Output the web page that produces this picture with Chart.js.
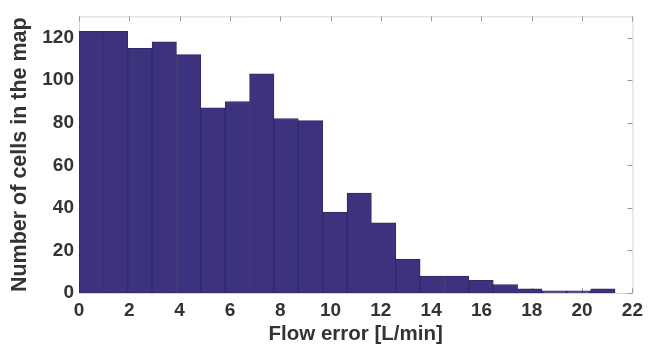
<!DOCTYPE html>
<html lang="en">
<head>
    <meta charset="UTF-8">
    <title>Flow error histogram</title>
    <script src="https://cdn.jsdelivr.net/npm/chart.js"></script>
    <style>
        body {
            margin: 0;
            background-color: #ffffff;
        }
        #wrap {
            width: 649px;
            height: 345px;
        }
    </style>
</head>
<body>
    <div id="wrap"><canvas id="histChart" width="649" height="345"></canvas></div>
    <script>
        // histogram: 22 equal bins from 0 to 21.31 L/min
        const binStart = 0;
        const binEnd = 21.31;
        const counts = [123, 123, 115, 118, 112, 87, 90, 103, 82, 81, 38, 47, 33, 16, 8, 8, 6, 4, 2, 1, 1, 2];
        const xTicks = [0, 2, 4, 6, 8, 10, 12, 14, 16, 18, 20, 22];
        const yTicks = [0, 20, 40, 60, 80, 100, 120];

        const binWidth = (binEnd - binStart) / counts.length;
        const points = counts.map((c, i) => ({ x: binStart + (i + 0.5) * binWidth, y: c }));

        const labelColor = '#333333';
        const frameColor = '#d6d6d6';
        const tickMarkColor = '#9a9a9a';
        const fontFamily = 'Liberation Sans, Arial, sans-serif';

        // box frame on top/right and inward tick marks, drawn under the bars
        const framePlugin = {
            id: 'frame',
            beforeDatasetsDraw(chart) {
                const { ctx, chartArea: a, scales } = chart;
                ctx.save();
                ctx.lineWidth = 1;
                ctx.strokeStyle = frameColor;
                ctx.beginPath();
                ctx.moveTo(a.left, a.top + 0.5);
                ctx.lineTo(a.right + 0.5, a.top + 0.5);
                ctx.lineTo(a.right + 0.5, a.bottom);
                ctx.stroke();

                ctx.strokeStyle = tickMarkColor;
                ctx.beginPath();
                xTicks.forEach(v => {
                    const px = Math.round(scales.x.getPixelForValue(v)) + 0.5;
                    ctx.moveTo(px, a.top);
                    ctx.lineTo(px, a.top + 5);
                    ctx.moveTo(px, a.bottom);
                    ctx.lineTo(px, a.bottom - 5);
                });
                yTicks.forEach(v => {
                    const py = Math.round(scales.y.getPixelForValue(v)) + 0.5;
                    ctx.moveTo(a.right, py);
                    ctx.lineTo(a.right - 5, py);
                });
                ctx.stroke();
                ctx.restore();
            }
        };

        new Chart(document.getElementById('histChart'), {
            type: 'bar',
            data: {
                datasets: [{
                    data: points,
                    backgroundColor: '#3c327d',
                    borderColor: '#302a66',
                    borderWidth: 1,
                    borderSkipped: false,
                    barPercentage: 1.0,
                    categoryPercentage: 1.0
                }]
            },
            plugins: [framePlugin],
            options: {
                responsive: false,
                animation: false,
                events: [],
                layout: { padding: { top: 13, right: 12, left: 0, bottom: 0 } },
                plugins: {
                    legend: { display: false },
                    tooltip: { enabled: false }
                },
                scales: {
                    x: {
                        type: 'linear',
                        offset: false,
                        min: 0,
                        max: 22,
                        afterFit: s => { s.height = 52; },
                        afterBuildTicks: s => { s.ticks = xTicks.map(v => ({ value: v })); },
                        grid: { display: false, drawTicks: false, tickLength: 0 },
                        border: { display: true, color: frameColor },
                        ticks: {
                            color: labelColor,
                            padding: 6,
                            maxRotation: 0,
                            font: { family: fontFamily, size: 19, weight: 'bold' }
                        },
                        title: {
                            display: true,
                            text: 'Flow error [L/min]',
                            color: labelColor,
                            padding: { top: 0, bottom: 0 },
                            font: { family: fontFamily, size: 20.5, weight: 'bold', lineHeight: 1 }
                        }
                    },
                    y: {
                        min: 0,
                        max: 130,
                        afterFit: s => { s.width = 79; },
                        afterBuildTicks: s => { s.ticks = yTicks.map(v => ({ value: v })); },
                        grid: { display: false, drawTicks: false, tickLength: 0 },
                        border: { display: true, color: frameColor },
                        ticks: {
                            color: labelColor,
                            padding: 5,
                            font: { family: fontFamily, size: 19, weight: 'bold' }
                        },
                        title: {
                            display: true,
                            text: 'Number of cells in the map',
                            color: labelColor,
                            padding: { top: 9, bottom: 0 },
                            font: { family: fontFamily, size: 21.5, weight: 'bold', lineHeight: 1 }
                        }
                    }
                }
            }
        });
    </script>
</body>
</html>
